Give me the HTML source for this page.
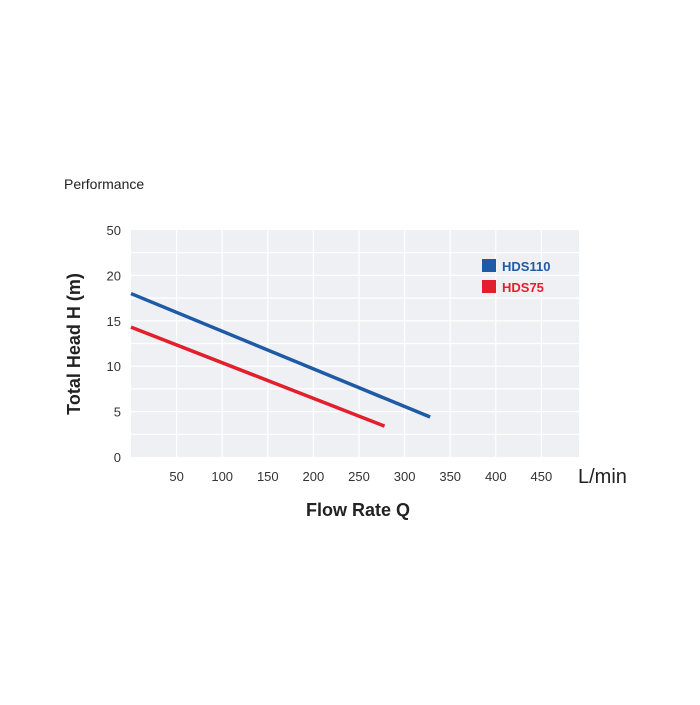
<!DOCTYPE html>
<html><head><meta charset="utf-8"><style>
body{margin:0;background:#fff;font-family:"Liberation Sans",sans-serif}
svg text{font-family:"Liberation Sans",sans-serif}
</style></head><body>
<svg width="700" height="700" viewBox="0 0 700 700">
<rect width="700" height="700" fill="#fff"/>
<text x="64" y="189" font-size="14" fill="#222">Performance</text>
<g id="plot"></g>
<text transform="translate(80,344) rotate(-90)" text-anchor="middle" font-size="18" font-weight="bold" fill="#222">Total Head H (m)</text>
<text x="358" y="516" text-anchor="middle" font-size="18" font-weight="bold" fill="#222">Flow Rate Q</text>
<text x="578" y="483" font-size="20" fill="#222">L/min</text>
<rect x="482" y="259" width="14" height="13" fill="#1f5aa6"/>
<text x="502" y="271" font-size="13" font-weight="bold" fill="#1f5aa6">HDS110</text>
<rect x="482" y="280" width="14" height="13" fill="#e21f2c"/>
<text x="502" y="292" font-size="13" font-weight="bold" fill="#e21f2c">HDS75</text>
</svg>
<script>
const xTicks=[50,100,150,200,250,300,350,400,450];
const yTickLabels=["0","5","10","15","20","50"];
const yTickValues=[0,5,10,15,20,25];
const hds110Q=[0,328];
const hds110H=[18,4.4];
const hds75Q=[0,278];
const hds75H=[14.3,3.4];
const NS="http://www.w3.org/2000/svg";
const L=131,R=579,B=457,T=230;
const sx=q=>L+q*45.6/50;
const sy=h=>B-h*(B-T)/25;
const g=document.getElementById('plot');
function mk(t,a){const e=document.createElementNS(NS,t);for(const k in a)e.setAttribute(k,a[k]);g.appendChild(e);return e;}
let bg=mk('rect',{x:L,y:T,width:R-L,height:B-T,fill:'#eff0f3'});


for(let v=2.5;v<25;v+=2.5){let l=mk('line',{x1:L,x2:R,y1:sy(v),y2:sy(v),stroke:'#fff','stroke-width':1.2});

}
xTicks.forEach(q=>{let l=mk('line',{x1:sx(q),x2:sx(q),y1:T,y2:B,stroke:'#fff','stroke-width':1.2});


let t=mk('text',{x:sx(q),y:481,'text-anchor':'middle','font-size':13,fill:'#333'});t.textContent=q;

});
yTickValues.forEach((v,i)=>{let t=mk('text',{x:121,y:sy(v)+5,'text-anchor':'end','font-size':13,fill:'#333'});t.textContent=yTickLabels[i];

});
function series(qs,hs,c,n){let p=mk('polyline',{points:qs.map((q,i)=>sx(q)+','+sy(hs[i])).join(' '),fill:'none',stroke:c,'stroke-width':3.5});

}
series(hds110Q,hds110H,'#1f5aa6','line-hds110');
series(hds75Q,hds75H,'#e21f2c','line-hds75');
</script>
</body></html>
